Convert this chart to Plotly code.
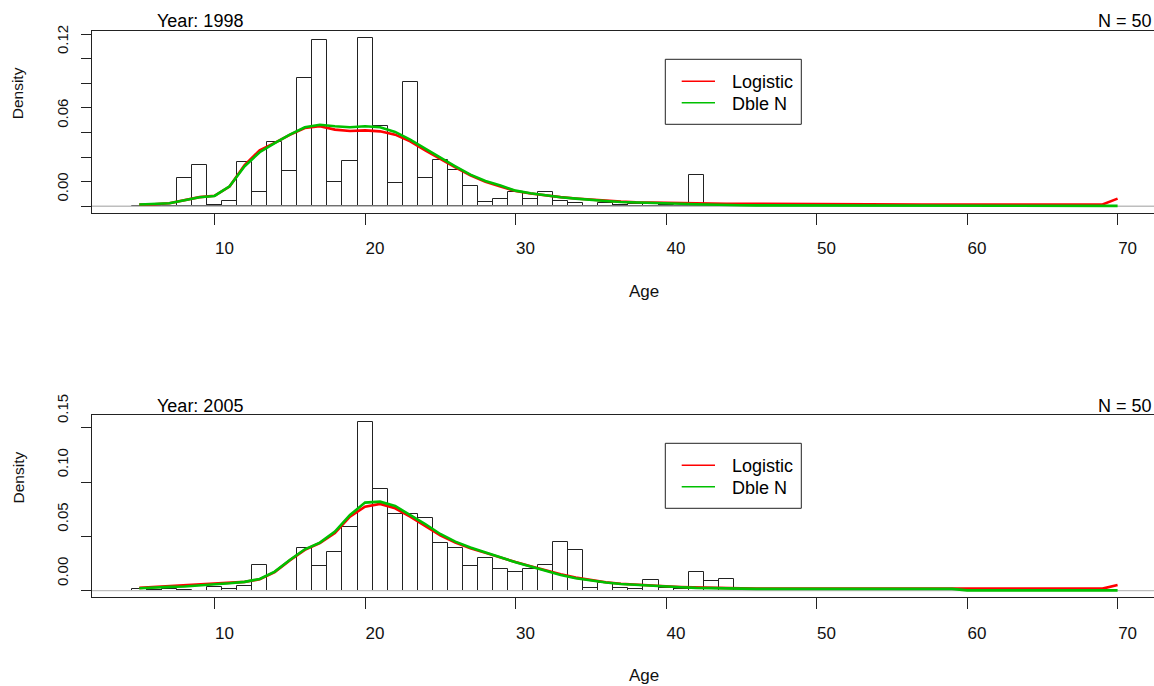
import plotly.graph_objects as go

W, H = 1154, 686
FONT = "Liberation Sans, Arial, Helvetica, sans-serif"
INK = "#222222"

# ---------------------------------------------------------------- data
years = ["1998", "2005"]
sample_sizes = [50, 50]

# age classes of the histograms (bins of width 1 centred on each age)
hist_ages = list(range(5, 45))
hist_1998 = [0.0, 0.0, 0.0, 0.0230, 0.0339, 0.0008, 0.0046, 0.0357, 0.0114, 0.0520,
             0.0284, 0.1045, 0.1348, 0.0195, 0.0371, 0.1370, 0.0650, 0.0187, 0.1009, 0.0230,
             0.0379, 0.0292, 0.0168, 0.0035, 0.0059, 0.0116, 0.0063, 0.0114, 0.0041, 0.0027,
             0.0, 0.0027, 0.0008, 0.0015, 0.0015, 0.0008, 0.0, 0.0252, 0.0, 0.0]
hist_2005 = [0.0012, 0.0009, 0.0018, 0.0006, 0.0, 0.0037, 0.0012, 0.0043, 0.0233, 0.0,
             0.0, 0.0390, 0.0227, 0.0359, 0.0589, 0.1555, 0.0936, 0.0706, 0.0706, 0.0666,
             0.0442, 0.0390, 0.0227, 0.0298, 0.0199, 0.0172, 0.0196, 0.0233, 0.0451, 0.0371,
             0.0021, 0.0067, 0.0021, 0.0012, 0.0095, 0.0021, 0.0012, 0.0172, 0.0086, 0.0107]

# fitted densities, ages 5..70
ages = list(range(5, 71))
logistic_1998 = [0.0014, 0.0016, 0.0025, 0.0050, 0.0074, 0.0085, 0.0160, 0.0335, 0.0455, 0.0515,
                 0.0580, 0.0636, 0.0650, 0.0623, 0.0612, 0.0617, 0.0609, 0.0582, 0.0528, 0.0455,
                 0.0384, 0.0317, 0.0252, 0.0198, 0.0160, 0.0124, 0.0104, 0.0087, 0.0074, 0.0063,
                 0.0053, 0.0045, 0.0038, 0.0033, 0.0030, 0.0027, 0.0024, 0.0022, 0.0021, 0.0020,
                 0.0020, 0.0019, 0.0019, 0.0019, 0.0018, 0.0018, 0.0018, 0.0017, 0.0014, 0.0014,
                 0.0014, 0.0014, 0.0014, 0.0014, 0.0014, 0.0014, 0.0014, 0.0014, 0.0014, 0.0014,
                 0.0014, 0.0014, 0.0014, 0.0014, 0.0014, 0.0062]
dblen_1998 = [0.0014, 0.0016, 0.0024, 0.0049, 0.0073, 0.0084, 0.0162, 0.0325, 0.0439, 0.0514,
              0.0582, 0.0642, 0.0663, 0.0650, 0.0642, 0.0650, 0.0642, 0.0604, 0.0541, 0.0468,
              0.0393, 0.0325, 0.0257, 0.0206, 0.0168, 0.0127, 0.0106, 0.0087, 0.0073, 0.0062,
              0.0051, 0.0043, 0.0035, 0.0030, 0.0027, 0.0024, 0.0020, 0.0016, 0.0012, 0.0009,
              0.0008, 0.0007, 0.0007, 0.0006, 0.0006, 0.0006, 0.0005, 0.0005, 0.0003, 0.0003,
              0.0003, 0.0003, 0.0003, 0.0003, 0.0003, 0.0003, 0.0003, 0.0003, 0.0003, 0.0003,
              0.0003, 0.0003, 0.0003, 0.0003, 0.0003, 0.0003]
logistic_2005 = [0.0025, 0.0033, 0.0038, 0.0043, 0.0050, 0.0058, 0.0068, 0.0080, 0.0103, 0.0170,
                 0.0278, 0.0375, 0.0438, 0.0530, 0.0681, 0.0773, 0.0798, 0.0758, 0.0681, 0.0598,
                 0.0509, 0.0442, 0.0390, 0.0347, 0.0303, 0.0262, 0.0224, 0.0186, 0.0150, 0.0119,
                 0.0096, 0.0077, 0.0063, 0.0053, 0.0045, 0.0039, 0.0033, 0.0028, 0.0024, 0.0021,
                 0.0020, 0.0018, 0.0018, 0.0018, 0.0018, 0.0018, 0.0018, 0.0018, 0.0018, 0.0018,
                 0.0018, 0.0018, 0.0018, 0.0018, 0.0018, 0.0018, 0.0018, 0.0018, 0.0018, 0.0018,
                 0.0018, 0.0018, 0.0018, 0.0018, 0.0018, 0.0052]
dblen_2005 = [0.0021, 0.0030, 0.0034, 0.0037, 0.0046, 0.0055, 0.0067, 0.0080, 0.0107, 0.0175,
              0.0282, 0.0380, 0.0442, 0.0543, 0.0696, 0.0810, 0.0819, 0.0779, 0.0696, 0.0613,
              0.0521, 0.0451, 0.0396, 0.0350, 0.0304, 0.0261, 0.0221, 0.0181, 0.0144, 0.0113,
              0.0092, 0.0074, 0.0061, 0.0052, 0.0043, 0.0037, 0.0031, 0.0025, 0.0021, 0.0018,
              0.0017, 0.0015, 0.0015, 0.0015, 0.0015, 0.0015, 0.0015, 0.0015, 0.0015, 0.0015,
              0.0015, 0.0015, 0.0015, 0.0015, 0.0015, 0.0002, 0.0002, 0.0002, 0.0002, 0.0002,
              0.0002, 0.0002, 0.0002, 0.0002, 0.0002, 0.0002]

series_names = ["Logistic", "Dble N"]
series_colors = ["#FF0000", "#00C000"]

panels = [
    dict(year=years[0], n=sample_sizes[0], hist=hist_1998, fits=[logistic_1998, dblen_1998],
         ytick_major=0.06, ytick_minor=0.02),
    dict(year=years[1], n=sample_sizes[1], hist=hist_2005, fits=[logistic_2005, dblen_2005],
         ytick_major=0.05, ytick_minor=None),
]

# ---------------------------------------------------------------- geometry (pixels)
PLOT_L, PLOT_R = 92, 1154
X_RANGE = [1.86, 72.42]
BOX_Y = [(31, 213), (415, 597.3)]


def px(x):
    return x / W


def py(y):
    return 1 - y / H


fig = go.Figure()
annotations = []
shapes = []

for i, p in enumerate(panels):
    k = "" if i == 0 else str(i + 1)
    xa, ya = "x" + k, "y" + k
    top, bot = BOX_Y[i]

    # histogram outline
    fig.add_trace(go.Bar(
        x=hist_ages, y=p["hist"], width=1, xaxis=xa, yaxis=ya,
        marker=dict(color="rgba(0,0,0,0)", line=dict(color=INK, width=1)),
        showlegend=False, hoverinfo="skip"))
    # zero reference line
    fig.add_trace(go.Scatter(
        x=X_RANGE, y=[0, 0], mode="lines", xaxis=xa, yaxis=ya,
        line=dict(color="#BEBEBE", width=1.3), showlegend=False, hoverinfo="skip"))
    # fitted curves
    for name, col, vals in zip(series_names, series_colors, p["fits"]):
        fig.add_trace(go.Scatter(
            x=ages, y=vals, mode="lines", name=name, xaxis=xa, yaxis=ya,
            line=dict(color=col, width=2.6), showlegend=False))

    ymax = max(p["hist"])
    yrange = [-0.04 * ymax, 1.04 * ymax]

    xaxis = dict(
        domain=[px(PLOT_L), px(PLOT_R)], range=X_RANGE, anchor=ya, automargin=False,
        showgrid=False, zeroline=False, showline=True, mirror=True,
        linecolor=INK, linewidth=1,
        tickmode="array", tickvals=[10, 20, 30, 40, 50, 60, 70],
        ticks="outside", ticklen=11, tickcolor=INK, tickwidth=1,
        tickfont=dict(family=FONT, size=17, color="#111"),
        ticklabelshift=10, ticklabelstandoff=9,
    )
    yaxis = dict(
        domain=[py(bot), py(top)], range=yrange, anchor=xa, automargin=False,
        showgrid=False, zeroline=False, showline=True, mirror=False,
        linecolor=INK, linewidth=1,
        tick0=0, dtick=p["ytick_major"], tickformat=".2f",
        ticks="outside", ticklen=10, tickcolor=INK, tickwidth=1,
        tickangle=-90, tickfont=dict(family=FONT, size=15, color="#111"),
        ticklabelshift=-17, ticklabelstandoff=7,
    )
    if p["ytick_minor"]:
        yaxis["minor"] = dict(dtick=p["ytick_minor"], tick0=0, ticks="outside",
                              ticklen=10, tickcolor=INK, tickwidth=1, showgrid=False)
    fig.layout["xaxis" + k] = xaxis
    fig.layout["yaxis" + k] = yaxis

    # panel texts
    title_y = top - 9.5
    annotations.append(dict(text="Year: " + p["year"], x=px(154.7), y=py(title_y),
                            xref="paper", yref="paper", xanchor="left", yanchor="middle",
                            showarrow=False, font=dict(family=FONT, size=18, color="#000")))
    annotations.append(dict(text="N = %d" % p["n"], x=px(1154), y=py(title_y),
                            xref="paper", yref="paper", xanchor="right", yanchor="middle",
                            showarrow=False, font=dict(family=FONT, size=18, color="#000")))
    annotations.append(dict(text="Age", x=px(627), y=py(bot + 78),
                            xref="paper", yref="paper", xanchor="left", yanchor="middle",
                            showarrow=False, font=dict(family=FONT, size=17, color="#111")))
    annotations.append(dict(text="Density", x=px(18.3), y=py((top + bot) / 2 - 1),
                            xref="paper", yref="paper", xanchor="center", yanchor="bottom",
                            textangle=-90, showarrow=False,
                            font=dict(family=FONT, size=15.5, color="#111")))

    # legend box
    lg_top = top + 28.3
    shapes.append(dict(type="rect", xref="paper", yref="paper",
                       x0=px(665.3), x1=px(801.3), y0=py(lg_top), y1=py(lg_top + 65),
                       line=dict(color=INK, width=1), fillcolor="white", layer="above"))
    for j, (name, col) in enumerate(zip(series_names, series_colors)):
        row_y = lg_top + 22 + 21.4 * j
        shapes.append(dict(type="line", xref="paper", yref="paper",
                           x0=px(681.7), x1=px(715), y0=py(row_y), y1=py(row_y),
                           line=dict(color=col, width=1.6), layer="above"))
        annotations.append(dict(text=name, x=px(729.7), y=py(row_y + 1),
                                xref="paper", yref="paper", xanchor="left", yanchor="middle",
                                showarrow=False, font=dict(family=FONT, size=18, color="#000")))

fig.update_layout(
    width=W, height=H,
    margin=dict(l=0, r=0, t=0, b=0, pad=0, autoexpand=False),
    paper_bgcolor="white", plot_bgcolor="white",
    barmode="overlay", bargap=0,
    annotations=annotations, shapes=shapes,
    showlegend=False,
)

fig.write_html("out.html")
